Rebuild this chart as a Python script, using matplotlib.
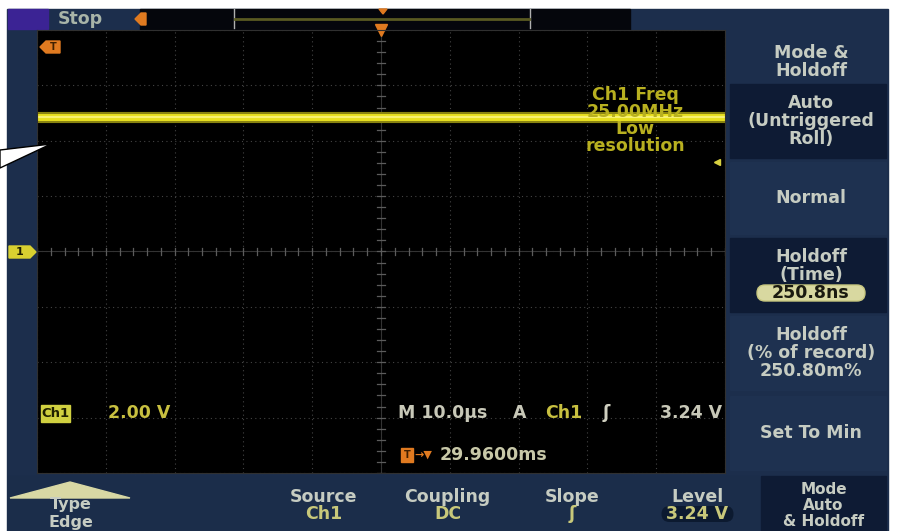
"""Oscilloscope screen capture: Ch1 trace, trigger menu (Mode & Holdoff)."""

import matplotlib
matplotlib.use("Agg")
import matplotlib.pyplot as plt
from matplotlib.patches import Rectangle, Polygon, FancyBboxPatch

# ---------------------------------------------------------------------------
# Data
# ---------------------------------------------------------------------------
time_us = [-50.0, 50.0]          # 10 divisions at 10.0 us/div
trace_v = [4.84, 4.84]           # Ch1 level (2.00 V/div)
volts_per_div = 2.00
trigger_level_v = 3.24

freq_lines = ["Ch1 Freq", "25.00MHz", "Low", "resolution"]
side_buttons = [
    ["Auto", "(Untriggered", "Roll)"],
    ["Normal"],
    ["Holdoff", "(Time)", "250.8ns"],
    ["Holdoff", "(% of record)", "250.80m%"],
    ["Set To Min"],
]
bottom_labels = [
    ("Type", "Edge"), ("", ""), ("Source", "Ch1"), ("Coupling", "DC"),
    ("Slope", "ʃ"), ("Level", "3.24 V"), ("Mode", "Auto", "& Holdoff"),
]

# ---------------------------------------------------------------------------
# Colours / sizes
# ---------------------------------------------------------------------------
NAVY = "#1c2e4c"
NAVY_DARK = "#0e1b34"
TXT = "#c6ccc2"
VAL = "#c8c87a"
YEL = "#e8e020"
ORANGE = "#e07a20"
FS = 12.5

W, H = 903, 531
fig = plt.figure(figsize=(W / 100, H / 100), dpi=100)
fig.patch.set_facecolor("white")

# chrome layer, pixel coordinates
bg = fig.add_axes([0, 0, 1, 1])
bg.set_xlim(0, W)
bg.set_ylim(H, 0)
bg.axis("off")

bg.add_patch(Rectangle((7, 9), 881, 522, color=NAVY))
bg.add_patch(Rectangle((140, 9), 490, 21, color="#05060c"))
bg.add_patch(Rectangle((8, 9), 40, 20, color="#3b2394"))
bg.text(80, 19, "Stop", color="#a8b4a8", fontsize=FS, fontweight="bold",
        ha="center", va="center")
bg.add_patch(Polygon([[135, 19], [141, 13], [146, 13], [146, 25], [141, 25]],
                     color=ORANGE))
# record view box
bg.plot([234, 234], [9, 28], color="#b0b0b0", lw=1)
bg.plot([530, 530], [9, 28], color="#b0b0b0", lw=1)
bg.plot([235, 529], [19, 19], color="#5a5a22", lw=2)
bg.add_patch(Polygon([[379, 9], [387, 9], [383, 14]], color=ORANGE))

# right panel
bg.text(811, 53, "Mode &", color=TXT, fontsize=FS, fontweight="bold",
        ha="center", va="center")
bg.text(811, 71, "Holdoff", color=TXT, fontsize=FS, fontweight="bold",
        ha="center", va="center")
btn_y = [(84, 158), (162, 234), (238, 312), (316, 390), (396, 470)]
btn_dark = [True, False, True, False, False]
for (y0, y1), dark, lines in zip(btn_y, btn_dark, side_buttons):
    bg.add_patch(Rectangle((730, y0), 156, y1 - y0,
                           color=NAVY_DARK if dark else "#1e3150"))
    yc = (y0 + y1) / 2
    n = len(lines)
    for i, s in enumerate(lines):
        yy = yc + (i - (n - 1) / 2) * 18
        if s == "250.8ns":
            bg.add_patch(FancyBboxPatch((757, yy - 8), 108, 16,
                                        boxstyle="round,pad=0,rounding_size=8",
                                        fc="#d8d8a0", ec="#c8c880"))
            bg.text(811, yy, s, color="#1a1a10", fontsize=FS, fontweight="bold",
                    ha="center", va="center")
        else:
            bg.text(811, yy, s, color=TXT, fontsize=FS, fontweight="bold",
                    ha="center", va="center")

# bottom bar
edges = [7, 135, 262, 385, 510, 635, 760, 887]
for i, lab in enumerate(bottom_labels):
    x0, x1 = edges[i], edges[i + 1]
    col = NAVY_DARK if i == len(bottom_labels) - 1 else "#1b2d4a"
    bg.add_patch(Rectangle((x0 + 1, 476), x1 - x0 - 2, 55, color=col))
    xc = (x0 + x1) / 2
    if len(lab) == 3:
        for j, s in enumerate(lab):
            bg.text(xc, 489 + j * 16, s, color=TXT, fontsize=11,
                    fontweight="bold", ha="center", va="center")
    elif i == 0:
        bg.text(xc, 504, lab[0], color=TXT, fontsize=11.5, fontweight="bold",
                ha="center", va="center")
        bg.text(xc, 522, lab[1], color=TXT, fontsize=11.5, fontweight="bold",
                ha="center", va="center")
    elif lab[0]:
        bg.text(xc, 497, lab[0], color=TXT, fontsize=FS, fontweight="bold",
                ha="center", va="center")
        if lab[1] == "3.24 V":
            bg.add_patch(FancyBboxPatch((xc - 36, 506), 72, 16,
                                        boxstyle="round,pad=0,rounding_size=8",
                                        fc="#0c1a30", ec="none"))
        bg.text(xc, 514, lab[1], color=VAL, fontsize=FS, fontweight="bold",
                ha="center", va="center")
bg.add_patch(Polygon([[10, 498], [130, 498], [70, 482]], color="#d8d8a4"))

# ground marker
bg.add_patch(Polygon([[9, 246], [30, 246], [36, 252], [30, 258], [9, 258]],
                     color="#d8d030"))
bg.text(20, 252, "1", color="#202000", fontsize=8, fontweight="bold",
        ha="center", va="center")

# ---------------------------------------------------------------------------
# Graticule
# ---------------------------------------------------------------------------
gx0, gy0, gx1, gy1 = 37, 30, 725, 473
ax = fig.add_axes([gx0 / W, 1 - gy1 / H, (gx1 - gx0) / W, (gy1 - gy0) / H])
ax.set_facecolor("black")
ax.set_xlim(-5 * 10.0, 5 * 10.0)
ax.set_ylim(-4 * volts_per_div, 4 * volts_per_div)
for s in ax.spines.values():
    s.set_color("#303030")
ax.set_xticks([])
ax.set_yticks([])

for k in range(-5, 6):
    ax.axvline(k * 10.0, color="#444444", lw=0.8, ls=(0, (1, 3)))
for k in range(-4, 5):
    ax.axhline(k * volts_per_div, color="#444444", lw=0.8, ls=(0, (1, 3)))
ax.axvline(0, color="#333333", lw=0.8)
ax.axhline(0, color="#333333", lw=0.8)
for k in range(-25, 26):
    ax.plot([k * 2.0] * 2, [-0.12, 0.12], color="#5c5c5c", lw=0.9)
for k in range(-20, 21):
    ax.plot([-0.6, 0.6], [k * volts_per_div / 5] * 2, color="#5c5c5c", lw=0.9)

# Ch1 trace
ax.plot(time_us, trace_v, color="#8a8410", lw=8, solid_capstyle="butt")
ax.plot(time_us, trace_v, color=YEL, lw=5, solid_capstyle="butt")
ax.plot(time_us, trace_v, color="#f6f070", lw=1.5, solid_capstyle="butt")

# trigger level marker
ax.plot([48.8], [trigger_level_v], marker="<", color="#d8d040", ms=5,
        clip_on=False)
# trigger position marker
ax.plot([0], [8.0], marker="v", color=ORANGE, ms=8, clip_on=False)

for i, s in enumerate(freq_lines):
    ax.text(635, 95 + i * 17, s, color="#b8b020", fontsize=FS,
            fontweight="bold", ha="center", va="center",
            transform=bg.transData)

# ---------------------------------------------------------------------------
# Overlay readouts
# ---------------------------------------------------------------------------
ov = fig.add_axes([0, 0, 1, 1])
ov.set_xlim(0, W)
ov.set_ylim(H, 0)
ov.axis("off")
ov.patch.set_alpha(0)

# callout pointer
ov.add_patch(Polygon([[0, 150], [0, 168], [51, 144]], fc="white", ec="black",
                     lw=1, clip_on=False))

ov.add_patch(Polygon([[40, 47], [46, 41], [60, 41], [60, 53], [46, 53]],
                     color=ORANGE))
ov.text(53, 47, "T", color="#402000", fontsize=7, fontweight="bold",
        ha="center", va="center")

ov.add_patch(Rectangle((41, 405), 29, 17, color="#d0d040"))
ov.text(55.5, 413.5, "Ch1", color="#202000", fontsize=9.5, fontweight="bold",
        ha="center", va="center")
ov.text(108, 413, f"{volts_per_div:.2f} V", color="#c8c040", fontsize=FS,
        fontweight="bold", ha="left", va="center")

ov.text(398, 413, "M 10.0µs", color="#c8c8b8", fontsize=FS,
        fontweight="bold", ha="left", va="center")
ov.text(513, 413, "A", color="#c8c8b8", fontsize=FS, fontweight="bold",
        ha="left", va="center")
ov.text(545, 413, "Ch1", color="#c8c040", fontsize=FS, fontweight="bold",
        ha="left", va="center")
ov.text(603, 413, "ʃ", color="#d0d0c0", fontsize=FS, fontweight="bold",
        ha="left", va="center")
ov.text(722, 413, f"{trigger_level_v:.2f} V", color="#c8c8b8", fontsize=FS,
        fontweight="bold", ha="right", va="center")

ov.add_patch(Rectangle((401, 448), 12, 14, color=ORANGE))
ov.text(407, 455, "T", color="#402000", fontsize=7, fontweight="bold",
        ha="center", va="center")
ov.text(414, 455, "→▼", color=ORANGE, fontsize=8, fontweight="bold",
        ha="left", va="center")
ov.text(440, 455, "29.9600ms", color="#c8c8a8", fontsize=FS,
        fontweight="bold", ha="left", va="center")

fig.savefig("out.png", dpi=100, facecolor="white")
